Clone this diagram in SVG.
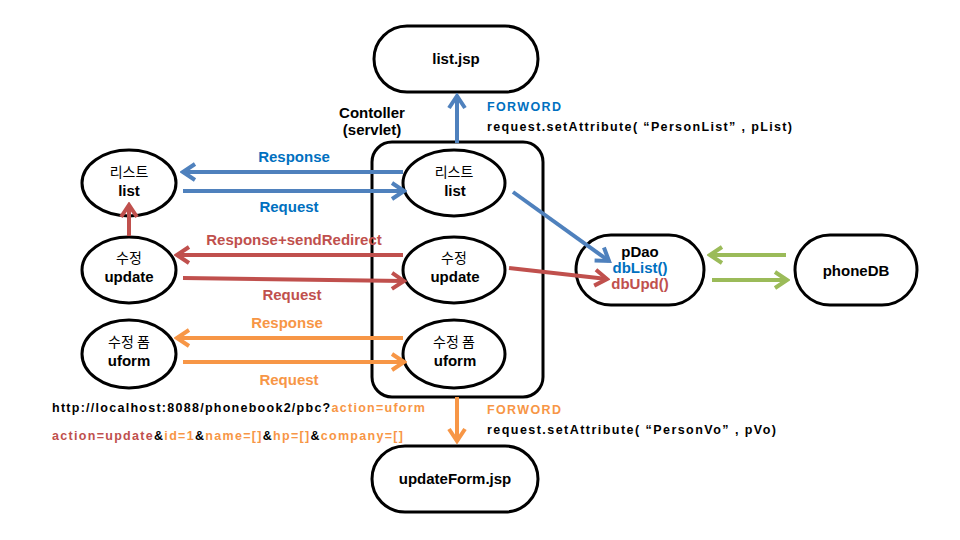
<svg xmlns="http://www.w3.org/2000/svg" width="960" height="540" viewBox="0 0 960 540">
<defs>
<style>
.n{fill:#fff;stroke:#000;stroke-width:3}
.t{font-family:"Liberation Sans","Noto Sans CJK KR",sans-serif;font-weight:bold;font-size:15px;fill:#000}
.k{font-family:"Noto Sans CJK KR","Liberation Sans",sans-serif;font-weight:normal;font-size:14px;fill:#000}
.s{font-family:"Liberation Sans","Noto Sans CJK KR",sans-serif;font-weight:bold;font-size:12.5px}
.b{stroke:#4F81BD}.r{stroke:#C0504D}.o{stroke:#F79646}.g{stroke:#9BBB59}
.c line{stroke-width:4;fill:none}
</style>
<marker id="mb" viewBox="0 0 20 20" refX="17" refY="10" markerWidth="20" markerHeight="20" markerUnits="userSpaceOnUse" orient="auto"><path d="M5,2 L17,10 L5,18" fill="none" stroke="#4F81BD" stroke-width="4"/></marker>
<marker id="mr" viewBox="0 0 20 20" refX="17" refY="10" markerWidth="20" markerHeight="20" markerUnits="userSpaceOnUse" orient="auto"><path d="M5,2 L17,10 L5,18" fill="none" stroke="#C0504D" stroke-width="4"/></marker>
<marker id="mo" viewBox="0 0 20 20" refX="17" refY="10" markerWidth="20" markerHeight="20" markerUnits="userSpaceOnUse" orient="auto"><path d="M5,2 L17,10 L5,18" fill="none" stroke="#F79646" stroke-width="4"/></marker>
<marker id="mg" viewBox="0 0 20 20" refX="17" refY="10" markerWidth="20" markerHeight="20" markerUnits="userSpaceOnUse" orient="auto"><path d="M5,2 L17,10 L5,18" fill="none" stroke="#9BBB59" stroke-width="4"/></marker>
</defs>
<rect width="960" height="540" fill="#fff"/>

<g id="controller">
<rect x="372" y="142" width="171" height="255" rx="20" fill="#fff" stroke="#000" stroke-width="3"/>
<text class="t" x="372" y="118" text-anchor="middle">Contoller</text>
<text class="t" x="372" y="135" text-anchor="middle">(servlet)</text>
</g>

<g id="listjsp">
<rect class="n" x="374" y="26" width="164" height="66" rx="33"/>
<text class="t" x="456" y="64" text-anchor="middle">list.jsp</text>
</g>
<g id="updateformjsp">
<rect class="n" x="372" y="446" width="166" height="66" rx="33"/>
<text class="t" x="455" y="484" text-anchor="middle">updateForm.jsp</text>
</g>

<g id="c-list">
<ellipse class="n" cx="454" cy="183" rx="51" ry="33"/>
<text class="k" x="454" y="177" text-anchor="middle">리스트</text>
<text class="t" x="455" y="196" text-anchor="middle">list</text>
</g>
<g id="c-update">
<ellipse class="n" cx="454" cy="270" rx="51" ry="33"/>
<text class="k" x="454" y="263" text-anchor="middle">수정</text>
<text class="t" x="455" y="282" text-anchor="middle">update</text>
</g>
<g id="c-uform">
<ellipse class="n" cx="454" cy="354" rx="51" ry="34"/>
<text class="k" x="454" y="347" text-anchor="middle">수정 폼</text>
<text class="t" x="455" y="366" text-anchor="middle">uform</text>
</g>

<g id="l-list">
<ellipse class="n" cx="129" cy="183" rx="47" ry="33"/>
<text class="k" x="129" y="177" text-anchor="middle">리스트</text>
<text class="t" x="129" y="196" text-anchor="middle">list</text>
</g>
<g id="l-update">
<ellipse class="n" cx="129" cy="270" rx="47" ry="33"/>
<text class="k" x="129" y="263" text-anchor="middle">수정</text>
<text class="t" x="129" y="282" text-anchor="middle">update</text>
</g>
<g id="l-uform">
<ellipse class="n" cx="129" cy="354" rx="47" ry="34"/>
<text class="k" x="129" y="347" text-anchor="middle">수정 폼</text>
<text class="t" x="129" y="366" text-anchor="middle">uform</text>
</g>

<g id="pdao">
<rect class="n" x="576" y="235" width="128" height="70" rx="35"/>
<text class="t" x="640" y="257" text-anchor="middle">pDao</text>
<text class="t" x="640" y="273" text-anchor="middle" style="fill:#0070C0">dbList()</text>
<text class="t" x="640" y="289" text-anchor="middle" style="fill:#C0504D">dbUpd()</text>
</g>
<g id="phonedb">
<rect class="n" x="795" y="235" width="122" height="70" rx="35"/>
<text class="t" x="856" y="276" text-anchor="middle">phoneDB</text>
</g>

<g id="connectors" class="c">
<line class="b" x1="403" y1="172" x2="183" y2="172" marker-end="url(#mb)"/>
<line class="b" x1="183" y1="191" x2="404" y2="191" marker-end="url(#mb)"/>
<line class="r" x1="403" y1="255" x2="177" y2="255" marker-end="url(#mr)"/>
<line class="r" x1="183" y1="278" x2="404" y2="281" marker-end="url(#mr)"/>
<line class="o" x1="403" y1="338" x2="177" y2="338" marker-end="url(#mo)"/>
<line class="o" x1="183" y1="362" x2="404" y2="362" marker-end="url(#mo)"/>
<line class="r" x1="129" y1="236" x2="129" y2="205" marker-end="url(#mr)"/>
<line class="b" x1="457" y1="143" x2="457" y2="96" marker-end="url(#mb)"/>
<line class="o" x1="457" y1="397" x2="457" y2="441" marker-end="url(#mo)"/>
<line class="b" x1="513" y1="192" x2="609" y2="261" marker-end="url(#mb)"/>
<line class="r" x1="509" y1="268" x2="607" y2="279" marker-end="url(#mr)"/>
<line class="g" x1="786" y1="255" x2="710" y2="255" marker-end="url(#mg)"/>
<line class="g" x1="712" y1="280" x2="787" y2="280" marker-end="url(#mg)"/>
</g>

<g id="labels">
<text class="t" x="294" y="162" text-anchor="middle" style="fill:#0070C0">Response</text>
<text class="t" x="289" y="212" text-anchor="middle" style="fill:#0070C0">Request</text>
<text class="t" x="294" y="245" text-anchor="middle" style="fill:#C0504D">Response+sendRedirect</text>
<text class="t" x="292" y="300" text-anchor="middle" style="fill:#C0504D">Request</text>
<text class="t" x="287" y="328" text-anchor="middle" style="fill:#F79646">Response</text>
<text class="t" x="289" y="385" text-anchor="middle" style="fill:#F79646">Request</text>
<text class="s" x="487" y="111" textLength="74" lengthAdjust="spacing" style="fill:#0070C0">FORWORD</text>
<text class="s" x="487" y="131" textLength="305" lengthAdjust="spacing" style="fill:#000">request.setAttribute( “PersonList” , pList)</text>
<text class="s" x="487" y="414" textLength="74" lengthAdjust="spacing" style="fill:#F79646">FORWORD</text>
<text class="s" x="487" y="434" textLength="289" lengthAdjust="spacing" style="fill:#000">request.setAttribute( “PersonVo” ,  pVo)</text>
<text class="s" x="52" y="412" textLength="373" lengthAdjust="spacing" style="fill:#000">http://localhost:8088/phonebook2/pbc?<tspan style="fill:#F79646">action=uform</tspan></text>
<text class="s" x="52" y="440" textLength="351" lengthAdjust="spacing" style="fill:#C0504D">action=update<tspan style="fill:#000">&amp;</tspan><tspan style="fill:#F79646">id=1</tspan><tspan style="fill:#000">&amp;</tspan><tspan style="fill:#F79646">name=[]</tspan><tspan style="fill:#000">&amp;</tspan><tspan style="fill:#F79646">hp=[]</tspan><tspan style="fill:#000">&amp;</tspan><tspan style="fill:#F79646">company=[]</tspan></text>
</g>
</svg>
